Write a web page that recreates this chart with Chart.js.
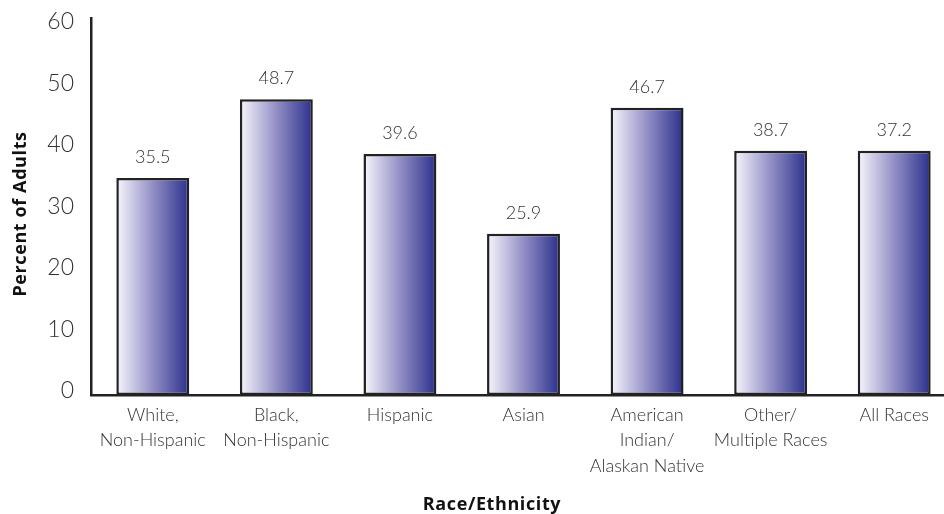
<!DOCTYPE html>
<html>
<head>
<meta charset="utf-8">
<script src="https://cdn.jsdelivr.net/npm/chart.js@4.4.1/dist/chart.umd.min.js"></script>
<style>
  html, body { margin: 0; padding: 0; background: #fff; overflow: hidden; }
  #wrap { width: 960px; height: 514px; }
</style>
</head>
<body>
<div id="wrap"><canvas id="raceChart" width="960" height="514"></canvas></div>
<script>
// categories (multi-line labels)
const categories = [
  ["White,", "Non-Hispanic"],
  ["Black,", "Non-Hispanic"],
  ["Hispanic"],
  ["Asian"],
  ["American", "Indian/", "Alaskan Native"],
  ["Other/", "Multiple Races"],
  ["All Races"],
];

// bar heights as drawn in the picture
const barValues = [35.3, 48.1, 39.2, 26.2, 46.7, 39.7, 39.7];

// value labels printed above the bars
const valueLabels = ["35.5", "48.7", "39.6", "25.9", "46.7", "38.7", "37.2"];

const yTicks = [0, 10, 20, 30, 40, 50, 60];

const fontFamily = "Lato, 'Open Sans', sans-serif";
const titleFamily = "'Open Sans', Lato, sans-serif";
const textColor = "#333333";

// horizontal gradient per bar, built from the x scale
function barGradient(context) {
  const chart = context.chart;
  const xScale = chart.scales.x;
  if (!xScale || xScale.width === undefined || context.dataIndex === undefined) {
    return "#8f8cc2";
  }
  const center = xScale.getPixelForValue(context.dataIndex);
  const half = (xScale.width / categories.length) * 0.59 / 2;
  const g = chart.ctx.createLinearGradient(center - half, 0, center + half, 0);
  g.addColorStop(0, "#f7f7fc");
  g.addColorStop(0.45, "#9d99cb");
  g.addColorStop(1, "#2b2f8c");
  return g;
}

// value labels + axis titles
const extraText = {
  id: "extraText",
  afterDatasetsDraw(chart) {
    const ctx = chart.ctx;
    const meta = chart.getDatasetMeta(0);
    ctx.save();
    ctx.fillStyle = textColor;
    ctx.textAlign = "center";
    ctx.textBaseline = "middle";
    ctx.font = "300 18px " + fontFamily;
    meta.data.forEach((bar, i) => {
      ctx.fillText(valueLabels[i], bar.x, bar.y - 21);
    });

    ctx.font = "bold 18px " + titleFamily;
    ctx.fillStyle = "#111";
    ctx.letterSpacing = "0.6px";
    ctx.fillText("Race/Ethnicity", 492, 505);

    ctx.translate(21, 214);
    ctx.rotate(-Math.PI / 2);
    ctx.fillText("Percent of Adults", 0, 0);
    ctx.restore();
  },
};

const ctx = document.getElementById("raceChart").getContext("2d");

const raceChart = new Chart(ctx, {
  type: "bar",
  data: {
    labels: categories,
    datasets: [
      {
        data: barValues,
        backgroundColor: barGradient,
        borderColor: "#222222",
        borderWidth: 2.5,
        borderSkipped: false,
        barPercentage: 0.59,
        categoryPercentage: 1,
      },
    ],
  },
  options: {
    responsive: false,
    animation: false,
    layout: { padding: { top: 18, right: 4, left: 0, bottom: 0 } },
    plugins: {
      legend: { display: false },
      tooltip: { enabled: false },
    },
    scales: {
      x: {
        grid: { display: false, drawTicks: false },
        border: { display: true, color: "#222", width: 2.5 },
        ticks: {
          color: textColor,
          font: { family: fontFamily, size: 18, weight: 300, lineHeight: 1.42 },
          padding: 7,
          maxRotation: 0,
          autoSkip: false,
        },
        afterFit(scale) {
          scale.height = 119;
          scale.paddingLeft = 0;
          scale.paddingRight = 0;
        },
      },
      y: {
        min: 0,
        max: 61.3,
        grid: { display: false, drawTicks: false },
        border: { display: true, color: "#222", width: 2.5 },
        ticks: {
          stepSize: 10,
          includeBounds: false,
          color: textColor,
          font: { family: fontFamily, size: 23, weight: 300 },
          padding: 17,
          labelOffset: -4,
          callback: (v) => (yTicks.includes(v) ? String(v) : ""),
        },
        afterFit(scale) {
          scale.width = 91;
          scale.paddingTop = 0;
          scale.paddingBottom = 0;
        },
      },
    },
  },
  plugins: [extraText],
});
</script>
</body>
</html>
